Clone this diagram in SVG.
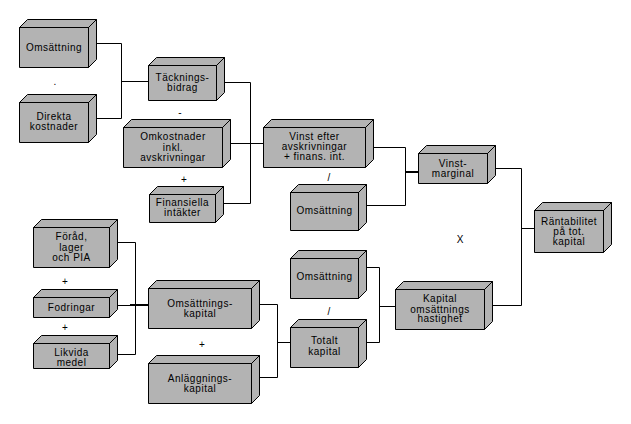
<svg xmlns="http://www.w3.org/2000/svg" width="631" height="424" viewBox="0 0 631 424">
<style>
.box{fill:#b3b3b3;stroke:#000;stroke-width:1;stroke-linejoin:miter}
.lbl{font-family:"Liberation Sans",Arial,sans-serif;font-size:10px;letter-spacing:0.5px;fill:#000;text-anchor:middle}
.op{font-family:"Liberation Sans",Arial,sans-serif;font-size:10px;fill:#000;text-anchor:middle}
.ln{fill:none;stroke:#000;stroke-width:1}
.thick{fill:none;stroke:#000;stroke-width:2}
</style>
<rect width="631" height="424" fill="#fff"/>
<g id="connectors">
<path class="ln" d="M88.5,43.5 H121.5 V118.5 H88.5 M121.5,81.5 H148.5"/>
<path class="ln" d="M216.5,82.5 H250.5 V203.5 H215.5 M222.5,143.5 H263.5"/>
<path class="ln" d="M365.5,147.5 H405.5 V205.5 H358.5"/>
<path class="thick" d="M405,172 H418.5"/>
<path class="ln" d="M487.5,168.5 H521.5 V305.5 H484.5 M521.5,228.5 H534.5"/>
<path class="ln" d="M109.5,242.5 H135.5 V354.5 H109.5 M109.5,305.5 H135.5"/>
<path class="thick" d="M130,305 H148.5"/>
<path class="ln" d="M251.5,304.5 H277.5 V377.5 H251.5 M277.5,342.5 H290.5"/>
<path class="ln" d="M358.5,267.5 H379.5 V342.5 H358.5 M379.5,306.5 H395.5"/>
</g>
<g id="ops">
<text class="op" x="55" y="85">.</text>
<text class="op" x="180" y="116">-</text>
<text class="op" x="184" y="183">+</text>
<text class="op" x="329" y="181">/</text>
<text class="op" x="460" y="243">X</text>
<text class="op" x="65" y="285">+</text>
<text class="op" x="65" y="331">+</text>
<text class="op" x="202" y="348">+</text>
<text class="op" x="329" y="315">/</text>
</g>
<g id="n1"><path class="box" d="M19.5,27.5 h69 v40 h-69 Z M19.5,27.5 l8,-8 h69 l-8,8 Z M88.5,27.5 l8,-8 v40 l-8,8 Z"/><text class="lbl" x="54" y="50.5">Omsättning</text></g>
<g id="n2"><path class="box" d="M19.5,102.5 h69 v40 h-69 Z M19.5,102.5 l8,-8 h69 l-8,8 Z M88.5,102.5 l8,-8 v40 l-8,8 Z"/><text class="lbl" x="54" y="119.5">Direkta</text><text class="lbl" x="54" y="130">kostnader</text></g>
<g id="n3"><path class="box" d="M148.5,65.5 h68 v35 h-68 Z M148.5,65.5 l8,-8 h68 l-8,8 Z M216.5,65.5 l8,-8 v35 l-8,8 Z"/><text class="lbl" x="182.5" y="80.5">Täcknings-</text><text class="lbl" x="182.5" y="91">bidrag</text></g>
<g id="n4"><path class="box" d="M123.5,127.5 h99 v40 h-99 Z M123.5,127.5 l8,-8 h99 l-8,8 Z M222.5,127.5 l8,-8 v40 l-8,8 Z"/><text class="lbl" x="173" y="140">Omkostnader</text><text class="lbl" x="173" y="150.5">inkl.</text><text class="lbl" x="173" y="161">avskrivningar</text></g>
<g id="n5"><path class="box" d="M149.5,194.5 h66 v28 h-66 Z M149.5,194.5 l8,-8 h66 l-8,8 Z M215.5,194.5 l8,-8 v28 l-8,8 Z"/><text class="lbl" x="182.5" y="205.5">Finansiella</text><text class="lbl" x="182.5" y="216">intäkter</text></g>
<g id="n6"><path class="box" d="M263.5,127.5 h102 v40 h-102 Z M263.5,127.5 l8,-8 h102 l-8,8 Z M365.5,127.5 l8,-8 v40 l-8,8 Z"/><text class="lbl" x="314.5" y="139.5">Vinst efter</text><text class="lbl" x="314.5" y="150">avskrivningar</text><text class="lbl" x="314.5" y="160">+ finans. int.</text></g>
<g id="n7"><path class="box" d="M290.5,192.5 h68 v38 h-68 Z M290.5,192.5 l8,-8 h68 l-8,8 Z M358.5,192.5 l8,-8 v38 l-8,8 Z"/><text class="lbl" x="324.5" y="214">Omsättning</text></g>
<g id="n8"><path class="box" d="M418.5,153.5 h69 v30 h-69 Z M418.5,153.5 l8,-8 h69 l-8,8 Z M487.5,153.5 l8,-8 v30 l-8,8 Z"/><text class="lbl" x="453" y="166.5">Vinst-</text><text class="lbl" x="453" y="177">marginal</text></g>
<g id="n9"><path class="box" d="M534.5,210.5 h69 v42 h-69 Z M534.5,210.5 l8,-8 h69 l-8,8 Z M603.5,210.5 l8,-8 v42 l-8,8 Z"/><text class="lbl" x="569" y="224.5">Räntabilitet</text><text class="lbl" x="569" y="235">på tot.</text><text class="lbl" x="569" y="245">kapital</text></g>
<g id="n10"><path class="box" d="M33.5,227.5 h76 v40 h-76 Z M33.5,227.5 l8,-8 h76 l-8,8 Z M109.5,227.5 l8,-8 v40 l-8,8 Z"/><text class="lbl" x="71.5" y="240">Föråd,</text><text class="lbl" x="71.5" y="250.5">lager</text><text class="lbl" x="71.5" y="260.5">och PIA</text></g>
<g id="n11"><path class="box" d="M33.5,297.5 h76 v20 h-76 Z M33.5,297.5 l8,-8 h76 l-8,8 Z M109.5,297.5 l8,-8 v20 l-8,8 Z"/><text class="lbl" x="71.5" y="310.5">Fodringar</text></g>
<g id="n12"><path class="box" d="M33.5,343.5 h76 v25 h-76 Z M33.5,343.5 l8,-8 h76 l-8,8 Z M109.5,343.5 l8,-8 v25 l-8,8 Z"/><text class="lbl" x="71.5" y="355.5">Likvida</text><text class="lbl" x="71.5" y="366">medel</text></g>
<g id="n13"><path class="box" d="M148.5,288.5 h103 v40 h-103 Z M148.5,288.5 l8,-8 h103 l-8,8 Z M251.5,288.5 l8,-8 v40 l-8,8 Z"/><text class="lbl" x="200" y="306.5">Omsättnings-</text><text class="lbl" x="200" y="317">kapital</text></g>
<g id="n14"><path class="box" d="M148.5,363.5 h103 v40 h-103 Z M148.5,363.5 l8,-8 h103 l-8,8 Z M251.5,363.5 l8,-8 v40 l-8,8 Z"/><text class="lbl" x="200" y="381.5">Anläggnings-</text><text class="lbl" x="200" y="392">kapital</text></g>
<g id="n15"><path class="box" d="M290.5,258.5 h68 v40 h-68 Z M290.5,258.5 l8,-8 h68 l-8,8 Z M358.5,258.5 l8,-8 v40 l-8,8 Z"/><text class="lbl" x="324.5" y="280">Omsättning</text></g>
<g id="n16"><path class="box" d="M290.5,327.5 h68 v40 h-68 Z M290.5,327.5 l8,-8 h68 l-8,8 Z M358.5,327.5 l8,-8 v40 l-8,8 Z"/><text class="lbl" x="324.5" y="343.5">Totalt</text><text class="lbl" x="324.5" y="354.5">kapital</text></g>
<g id="n17"><path class="box" d="M395.5,289.5 h89 v40 h-89 Z M395.5,289.5 l8,-8 h89 l-8,8 Z M484.5,289.5 l8,-8 v40 l-8,8 Z"/><text class="lbl" x="440" y="301.5">Kapital</text><text class="lbl" x="440" y="312.5">omsättnings</text><text class="lbl" x="440" y="322">hastighet</text></g>
</svg>
